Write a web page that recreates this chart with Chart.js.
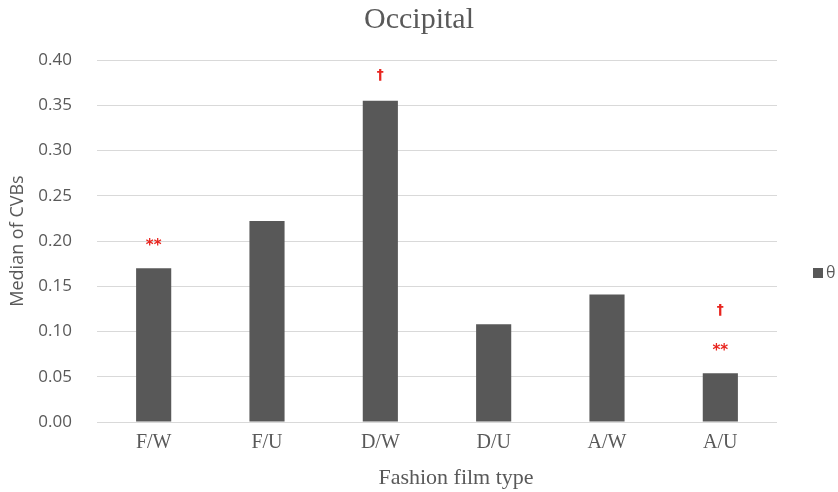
<!DOCTYPE html>
<html>
<head>
<meta charset="utf-8">
<script src="https://cdn.jsdelivr.net/npm/chart.js@4"></script>
<style>
  html, body { margin: 0; padding: 0; background: #fff; }
  #wrap { width: 838px; height: 492px; }
</style>
</head>
<body>
<div id="wrap"><canvas id="barchart"></canvas></div>
<script>
const categories = ['F/W', 'F/U', 'D/W', 'D/U', 'A/W', 'A/U'];
const thetaValues = [0.170, 0.222, 0.355, 0.108, 0.141, 0.054];
const yTicks = [0, 0.05, 0.10, 0.15, 0.20, 0.25, 0.30, 0.35, 0.40];
// significance marks per category, stacked upward from the bar top
const marks = [['**'], [], ['\u2020'], [], [], ['**', '\u2020']];
const xTitle = 'Fashion film type';

const markPlugin = {
    id: 'marks',
    afterDatasetsDraw(chart) {
        const ctx = chart.ctx;
        const meta = chart.getDatasetMeta(0);
        const area = chart.chartArea;
        ctx.save();
        ctx.fillStyle = '#e8251f';
        ctx.textAlign = 'center';
        ctx.textBaseline = 'middle';
        marks.forEach(function(list, i) {
            const bar = meta.data[i];
            list.forEach(function(m, k) {
                const y = bar.y - 25 - k * 38;
                ctx.font = m === '**' ? 'bold 15px "DejaVu Sans"' : 'bold 14px "DejaVu Sans"';
                ctx.fillText(m, bar.x, y + (m === '**' ? 3 : 0));
            });
        });
        // x axis title, sits a little right of the plot centre
        ctx.fillStyle = '#595959';
        ctx.font = '22px "Liberation Serif"';
        ctx.fillText(xTitle, (area.left + area.right) / 2 + 19, area.bottom + 56);
        // legend, to the right of the plot
        const ds = chart.data.datasets[0];
        const ly = (area.top + area.bottom) / 2 + 32;
        const lx = area.right + 36;
        ctx.fillStyle = ds.backgroundColor;
        ctx.fillRect(lx, ly - 5, 10, 10);
        ctx.fillStyle = '#595959';
        ctx.textAlign = 'left';
        ctx.font = '16px "Open Sans"';
        ctx.fillText(ds.label, lx + 13, ly);
        ctx.restore();
    }
};

document.addEventListener("DOMContentLoaded", function() {
    const ctx = document.getElementById('barchart');

    new Chart(ctx, {
        type: 'bar',
        data: {
            labels: categories,
            datasets: [
                {
                    label: '\u03b8',
                    backgroundColor: '#585858',
                    data: thetaValues,
                    categoryPercentage: 0.31,
                    barPercentage: 1.0
                }
            ]
        },
        plugins: [markPlugin],
        options: {
            responsive: true,
            maintainAspectRatio: false,
            animation: false,
            layout: { padding: 0 },
            plugins: {
                title: {
                    display: true,
                    text: 'Occipital',
                    color: '#595959',
                    font: { family: '"Liberation Serif"', size: 30, weight: 'normal' },
                    padding: { top: 2, bottom: 22 }
                },
                legend: { display: false },
                tooltip: { enabled: false }
            },
            scales: {
                x: {
                    afterFit: function(axis) { axis.height = 70; },
                    grid: { display: false, drawTicks: false },
                    border: { display: false },
                    ticks: {
                        color: '#595959',
                        padding: 9,
                        font: { family: '"Liberation Serif"', size: 20 }
                    }
                },
                y: {
                    min: 0,
                    max: 0.40,
                    afterFit: function(axis) { axis.width = 97; },
                    afterBuildTicks: function(axis) {
                        axis.ticks = yTicks.map(function(v) { return { value: v }; });
                    },
                    grid: { color: '#d9d9d9', drawTicks: false, lineWidth: 1 },
                    border: { display: false },
                    ticks: {
                        color: '#595959',
                        padding: 25,
                        font: { family: '"Open Sans"', size: 17 },
                        callback: function(v) { return Number(v).toFixed(2); }
                    },
                    title: {
                        display: true,
                        text: 'Median of CVBs',
                        color: '#595959',
                        font: { family: '"Open Sans"', size: 18 },
                        padding: { top: 7, bottom: 11 }
                    }
                },
                // empty right-hand strip that holds the legend
                yRight: {
                    position: 'right',
                    afterFit: function(axis) { axis.width = 61; },
                    grid: { display: false, drawTicks: false },
                    border: { display: false },
                    ticks: { display: false }
                }
            }
        }
    });
});
</script>
</body>
</html>
